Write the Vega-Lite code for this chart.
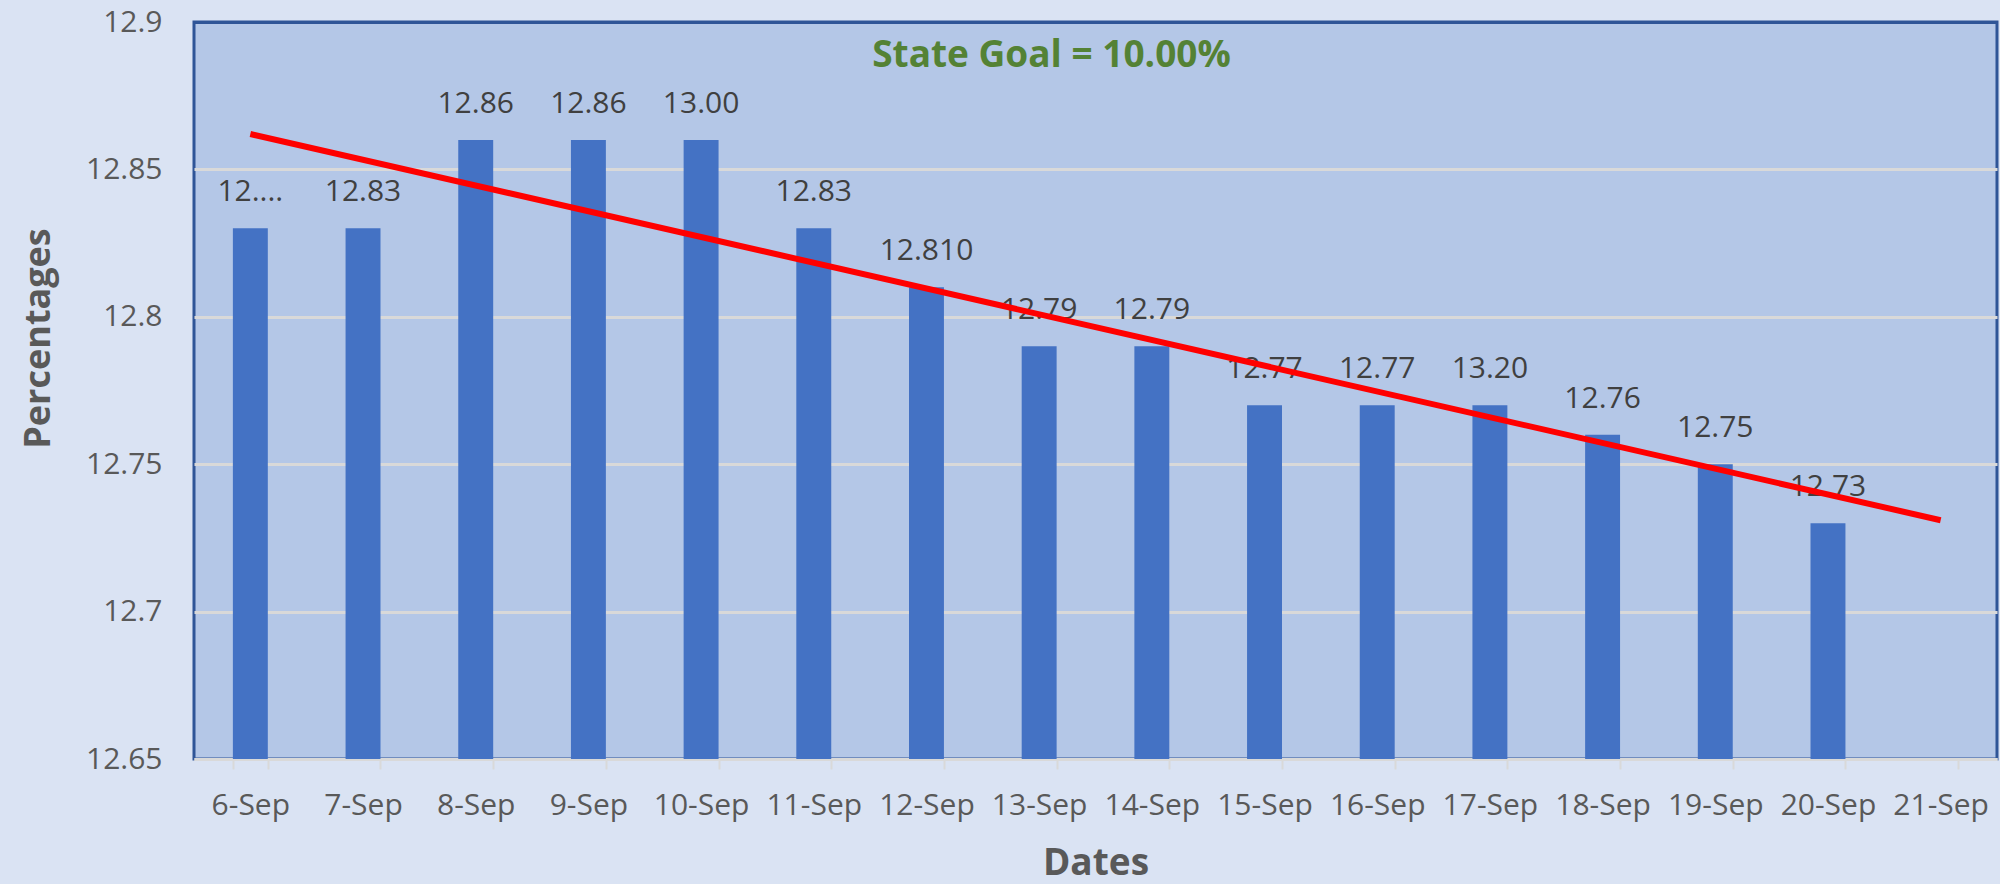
{
  "$schema": "https://vega.github.io/schema/vega-lite/v6.json",
  "width": 1803,
  "height": 737,
  "autosize": {"type": "none"},
  "padding": {"left": 194, "top": 22, "right": 3, "bottom": 125},
  "background": "#DAE3F3",
  "config": {
    "font": "Open Sans",
    "view": {"fill": "#B4C7E7", "stroke": "#2F5597", "strokeWidth": 3}
  },
  "title": {
    "text": "State Goal = 10.00%",
    "font": "Open Sans",
    "fontSize": 37,
    "fontWeight": "bold",
    "color": "#548235",
    "anchor": "middle",
    "frame": "group",
    "baseline": "alphabetic",
    "dx": -44,
    "offset": -97
  },
  "datasets": {
    "bars": [
      {"date": "6-Sep", "value": 12.83, "label": "12...."},
      {"date": "7-Sep", "value": 12.83, "label": "12.83"},
      {"date": "8-Sep", "value": 12.86, "label": "12.86"},
      {"date": "9-Sep", "value": 12.86, "label": "12.86"},
      {"date": "10-Sep", "value": 12.86, "label": "13.00"},
      {"date": "11-Sep", "value": 12.83, "label": "12.83"},
      {"date": "12-Sep", "value": 12.81, "label": "12.810"},
      {"date": "13-Sep", "value": 12.79, "label": "12.79"},
      {"date": "14-Sep", "value": 12.79, "label": "12.79"},
      {"date": "15-Sep", "value": 12.77, "label": "12.77"},
      {"date": "16-Sep", "value": 12.77, "label": "12.77"},
      {"date": "17-Sep", "value": 12.77, "label": "13.20"},
      {"date": "18-Sep", "value": 12.76, "label": "12.76"},
      {"date": "19-Sep", "value": 12.75, "label": "12.75"},
      {"date": "20-Sep", "value": 12.73, "label": "12.73"}
    ],
    "trend": [
      {"date": "6-Sep", "trend": 12.862},
      {"date": "21-Sep", "trend": 12.731}
    ]
  },
  "encoding": {
    "x": {
      "field": "date",
      "type": "nominal",
      "sort": null,
      "scale": {
        "domain": ["6-Sep", "7-Sep", "8-Sep", "9-Sep", "10-Sep", "11-Sep", "12-Sep", "13-Sep", "14-Sep", "15-Sep", "16-Sep", "17-Sep", "18-Sep", "19-Sep", "20-Sep", "21-Sep"],
        "paddingInner": 0.69,
        "paddingOuter": 0.345
      },
      "axis": {
        "title": "Dates",
        "titleFont": "Open Sans",
        "titleFontSize": 37,
        "titleFontWeight": "bold",
        "titleColor": "#595959",
        "titleBaseline": "alphabetic",
        "titleY": 115,
        "labelAngle": 0,
        "labelFontSize": 30,
        "labelColor": "#595959",
        "labelBaseline": "alphabetic",
        "labelPadding": 45,
        "tickBand": "extent",
        "tickSize": 10,
        "tickColor": "#D9D9D9",
        "tickWidth": 2,
        "domainColor": "#D9D9D9",
        "domainWidth": 3,
        "grid": false
      }
    }
  },
  "layer": [
    {
      "data": {"name": "bars"},
      "mark": {"type": "bar", "color": "#4472C4"},
      "encoding": {
        "y": {
          "field": "value",
          "type": "quantitative",
          "scale": {"domain": [12.65, 12.9], "zero": false, "nice": false},
          "axis": {
            "title": "Percentages",
            "titleFont": "Open Sans",
            "titleFontSize": 36,
            "titleFontWeight": "bold",
            "titleColor": "#595959",
            "titleAngle": -90,
            "titleBaseline": "alphabetic",
            "titleX": -145,
            "titleY": 316,
            "values": [12.65, 12.7, 12.75, 12.8, 12.85, 12.9],
            "format": "~g",
            "labelFontSize": 30,
            "labelColor": "#595959",
            "labelPadding": 32,
            "ticks": false,
            "tickSize": 0,
            "domain": false,
            "grid": true,
            "gridColor": {"condition": {"test": "datum.value >= 12.89", "value": "#2F5597"}, "value": "#D9D9D9"},
            "gridWidth": 3
          }
        },
        "y2": {"datum": 12.65}
      }
    },
    {
      "data": {"name": "bars"},
      "mark": {"type": "text", "dy": -27, "baseline": "alphabetic", "fontSize": 30, "color": "#404040", "font": "Open Sans"},
      "encoding": {
        "y": {"field": "value", "type": "quantitative"},
        "text": {"field": "label", "type": "nominal"}
      }
    },
    {
      "data": {"name": "trend"},
      "mark": {"type": "line", "color": "#FF0000", "strokeWidth": 6},
      "encoding": {
        "y": {"field": "trend", "type": "quantitative"}
      }
    }
  ]
}
